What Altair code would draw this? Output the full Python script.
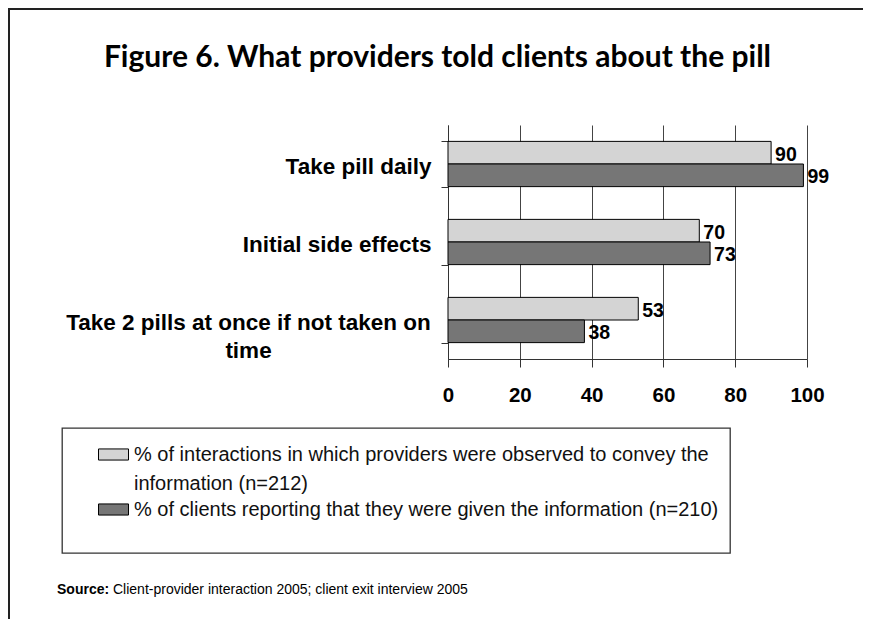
import altair as alt
import pandas as pd

categories = ["Take pill daily", "Initial side effects", "Take 2 pills at once if not taken on time"]
series = [
    "% of interactions in which providers were observed to convey the information (n=212)",
    "% of clients reporting that they were given the information (n=210)",
]
observed = [90, 70, 53]
reported = [99, 73, 38]
x_ticks = [0, 20, 40, 60, 80, 100]

rows = []
for c, o, r in zip(categories, observed, reported):
    rows.append({"category": c, "series": series[0], "value": o})
    rows.append({"category": c, "series": series[1], "value": r})
df = pd.DataFrame(rows)

FONT = "Liberation Sans"
W, H = 359, 234
PAD = {"left": 440, "top": 117, "right": 56, "bottom": 260}

LONG = categories[2]
y_label_expr = (
    "datum.value == '" + LONG + "' ? "
    "['Take 2 pills at once if not taken on', 'time'] : datum.label"
)
legend_label_expr = (
    "datum.label == '" + series[0] + "' ? "
    "['% of interactions in which providers were observed to convey the', 'information (n=212)'] : datum.label"
)
is_long = "datum.value == '" + LONG + "'"

base = alt.Chart(df).encode(
    y=alt.Y(
        "category:N",
        sort=categories,
        scale=alt.Scale(paddingInner=0.42, paddingOuter=0.21),
        axis=alt.Axis(
            title=None,
            labelFont=FONT,
            labelFontSize=22.5,
            labelFontWeight="bold",
            labelColor="#000",
            labelLineHeight=28,
            labelAlign={"condition": {"test": is_long, "value": "center"}, "value": "right"},
            labelPadding={"condition": {"test": is_long, "value": 193}, "value": 10},
            labelOffset=2,
            labelLimit=500,
            labelExpr=y_label_expr,
            tickBand="extent",
            tickSize=7,
            tickColor="#333",
            domainColor="#333",
            grid=False,
        ),
    ),
    yOffset=alt.YOffset("series:N", sort=series, scale=alt.Scale(paddingInner=0, paddingOuter=0)),
)

bars = base.mark_bar(stroke="#000", strokeWidth=1).encode(
    x=alt.X(
        "value:Q",
        scale=alt.Scale(domain=[0, 100], nice=False),
        axis=alt.Axis(
            title=None,
            values=x_ticks,
            labelFont=FONT,
            labelFontSize=20.5,
            labelFontWeight="bold",
            labelColor="#000",
            labelPadding=18,
            labelFlush=False,
            tickSize=8,
            tickColor="#333",
            domainColor="#333",
            grid=True,
            gridColor="#444",
            gridWidth=1,
        ),
    ),
    color=alt.Color(
        "series:N",
        sort=series,
        scale=alt.Scale(domain=series, range=["#d4d4d4", "#767676"]),
        legend=alt.Legend(
            title=".",
            titleOrient="bottom",
            titleColor="#fff",
            titleFontSize=6,
            titlePadding=16,
            orient="none",
            legendX=-386,
            legendY=303,
            direction="vertical",
            fillColor="#fff",
            strokeColor="#333",
            padding=11,
            symbolOffset=25,
            symbolType="M-1,-0.37H1V0.37H-1Z",
            symbolSize=900,
            symbolStrokeColor="#000",
            symbolStrokeWidth=1,
            symbolOpacity=1,
            labelFont=FONT,
            labelFontSize=20,
            labelColor="#111",
            labelLimit=700,
            labelOffset=5,
            labelExpr=legend_label_expr,
        ),
    ),
)

labels = base.mark_text(
    align="left", baseline="middle", dx=4, dy=2, font=FONT, fontSize=19.5, fontWeight="bold", color="#000"
).encode(x="value:Q", text="value:Q")

one = alt.Data(values=[{}])
title = alt.Chart(one).mark_text(
    text="Figure 6. What providers told clients about the pill",
    font="Lato", fontSize=30, fontWeight="bold", align="center", baseline="alphabetic", color="#000",
).encode(x=alt.value(-10.5), y=alt.value(-58))

source_bold = alt.Chart(one).mark_text(
    text="Source:", font=FONT, fontSize=14, fontWeight="bold", align="left", baseline="middle", color="#000"
).encode(x=alt.value(-391), y=alt.value(465))
source_rest = alt.Chart(one).mark_text(
    text="Client-provider interaction 2005; client exit interview 2005",
    font=FONT, fontSize=14, align="left", baseline="middle", color="#000"
).encode(x=alt.value(-335), y=alt.value(465))

left_border = alt.Chart(one).mark_rule(color="#222", strokeWidth=2).encode(
    x=alt.value(-439), y=alt.value(-117), y2=alt.value(494)
)
top_border = alt.Chart(one).mark_rule(color="#222", strokeWidth=2).encode(
    x=alt.value(-440), x2=alt.value(415), y=alt.value(-116)
)

chart = (
    alt.layer(bars, labels, title, source_bold, source_rest, left_border, top_border)
    .properties(width=W, height=H, autosize=alt.AutoSizeParams(type="none"), padding=PAD)
    .configure(background="#fff", style={"guide-label": {"lineHeight": 29}})
    .configure_view(stroke=None)
    .configure_legend(strokeWidth=1.3, rowPadding=0)
)

chart.save("out.html", embed_options={"renderer": "svg", "actions": False})
